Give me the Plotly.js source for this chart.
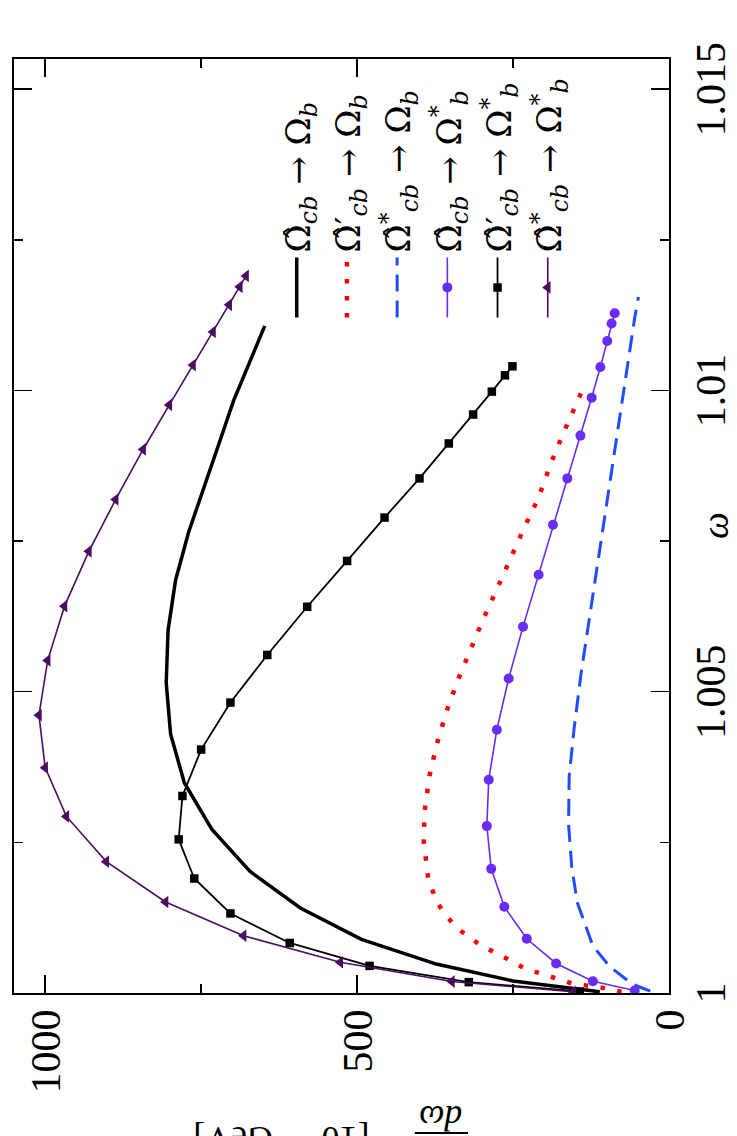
<!DOCTYPE html>
<html>
<head>
<meta charset="utf-8">
<script src="https://cdn.plot.ly/plotly-3.0.1.min.js"></script>
<style>
  html, body { margin: 0; padding: 0; background: #fff; overflow: hidden; }
  /* the figure is drawn landscape and turned a quarter turn to the left */
  #plot {
    position: absolute; left: 0; top: 0;
    width: 1136px; height: 737px;
    transform-origin: 0 0;
    transform: translateY(1136px) rotate(-90deg);
  }
</style>
</head>
<body>
<div id="plot"></div>
<script>
// Omega_cb -> Omega_b
var wSolid = [1.00002, 1.0002, 1.00048, 1.00089, 1.00141, 1.00202, 1.00272, 1.00349, 1.0043, 1.00515,
              1.00602, 1.00685, 1.00765, 1.00848, 1.00919, 1.00983, 1.01036, 1.01075, 1.01098, 1.01107];
var gSolid = [111, 250, 373, 493, 591, 672, 733, 777, 799, 806,
              803, 791, 770, 742, 719, 698, 677, 661, 652, 648];

// Omega'_cb -> Omega_b
var wDot = [1.00002, 1.00008, 1.00016, 1.00024, 1.00033, 1.00041, 1.00055, 1.0008, 1.0011, 1.0015,
            1.0019, 1.0025, 1.003, 1.0036, 1.0041, 1.00466, 1.00518, 1.0057, 1.0062, 1.0067,
            1.0072, 1.0077, 1.0082, 1.0088, 1.0093, 1.0098, 1.01005];
var gDot = [76, 103, 156, 181, 206, 232, 256, 303, 343, 372,
            386, 393, 392, 384, 373, 357, 339, 319, 298, 276,
            255, 233, 210, 189, 169, 147, 137];

// Omega*_cb -> Omega_b
var wDash = [1.00003, 1.00016, 1.00022, 1.00044, 1.00078, 1.00121, 1.0015, 1.0021, 1.0028, 1.0036,
             1.0044, 1.0053, 1.0062, 1.0071, 1.0079, 1.0087, 1.0095, 1.0101, 1.0107, 1.0112, 1.01155];
var gDash = [30, 62, 68, 95, 122, 137, 147, 156, 161, 160,
             152, 141, 128, 115, 103, 91, 80, 71, 62, 55, 49];

// Omega_cb -> Omega*_b
var wCirc = [1.00004, 1.000195, 1.00049, 1.0009, 1.00143, 1.00206, 1.00277, 1.00354, 1.00437, 1.00522,
             1.00608, 1.00694, 1.00777, 1.00854, 1.00925, 1.00988, 1.01039, 1.01082, 1.01111, 1.01128];
var gCirc = [55, 122, 181, 228, 264, 285, 292, 289, 276, 257,
             234, 209, 186, 163, 142, 124, 110, 99, 92, 87];

// Omega'_cb -> Omega*_b
var wSq = [1.000025, 1.00018, 1.00045, 1.00083, 1.00132, 1.0019, 1.00255, 1.00327, 1.00404, 1.00482,
           1.00561, 1.00641, 1.00717, 1.00789, 1.00854, 1.00912, 1.0096, 1.00998, 1.01025, 1.0104];
var gSq = [143, 321, 480, 608, 703, 761, 786, 780, 750, 703,
           644, 580, 516, 456, 400, 353, 314, 284, 263, 251];

// Omega*_cb -> Omega*_b
var wTri = [1.00002, 1.00019, 1.00051, 1.00095, 1.00151, 1.00218, 1.00293, 1.00374, 1.00461, 1.00552,
            1.00642, 1.00733, 1.00819, 1.00902, 1.00976, 1.01042, 1.01097, 1.01142, 1.01172, 1.0119];
var gTri = [154, 348, 527, 682, 807, 902, 966, 1000, 1010, 996,
            969, 930, 887, 843, 801, 763, 731, 705, 688, 678];

var omegaTicks = [1, 1.005, 1.01, 1.015];
var omegaLabels = ['1', '1.005', '1.01', '1.015'];
var rateTicks = [0, 500, 1000];
var rateLabels = ['0', '500', '1000'];

var OH = '\u03A9\u0302';   // widehat Omega
var names = [
  OH + '<sub><i>cb</i></sub> \u2192 \u03A9<sub><i>b</i></sub>',
  OH + '\u2032<sub><i>cb</i></sub> \u2192 \u03A9<sub><i>b</i></sub>',
  OH + '<sup>*</sup><sub><i>cb</i></sub> \u2192 \u03A9<sub><i>b</i></sub>',
  OH + '<sub><i>cb</i></sub> \u2192 \u03A9<sup>*</sup><sub><i>b</i></sub>',
  OH + '\u2032<sub><i>cb</i></sub> \u2192 \u03A9<sup>*</sup><sub><i>b</i></sub>',
  OH + '<sup>*</sup><sub><i>cb</i></sub> \u2192 \u03A9<sup>*</sup><sub><i>b</i></sub>'
];

var data = [
  {x: wSolid, y: gSolid, name: names[0], legendgroup: 'a', mode: 'lines',
   line: {color: '#000000', width: 3.5}},
  {x: wDot, y: gDot, name: names[1], legendgroup: 'b', mode: 'lines',
   line: {color: '#ff0000', width: 4.5, dash: '4.5px,12.5px'}},
  {x: wDash, y: gDash, name: names[2], legendgroup: 'c', mode: 'lines',
   line: {color: '#1f4cff', width: 3, dash: '17px,9px'}},
  {x: wCirc, y: gCirc, name: names[3], legendgroup: 'd', mode: 'lines+markers',
   line: {color: '#6a2cf5', width: 1.6},
   marker: {symbol: 'circle', size: 10, color: '#6a2cf5'}},
  {x: wSq, y: gSq, name: names[4], legendgroup: 'e', mode: 'lines+markers',
   line: {color: '#000000', width: 1.8},
   marker: {symbol: 'square', size: 8.5, color: '#000000'}},
  {x: wTri, y: gTri, name: names[5], legendgroup: 'f', mode: 'lines+markers',
   line: {color: '#4b0c64', width: 1.6},
   marker: {symbol: 'triangle-up', size: 11, color: '#4b0c64'}}
];

var serif = 'Liberation Serif';

var layout = {
  width: 1136,
  height: 737,
  margin: {l: 143, r: 59, t: 14, b: 68},
  paper_bgcolor: '#ffffff',
  plot_bgcolor: '#ffffff',
  font: {family: serif, color: '#000000', size: 36},
  showlegend: true,
  legend: {
    x: 0.718, y: 0.612, xanchor: 'left', yanchor: 'top',
    bgcolor: 'rgba(0,0,0,0)', borderwidth: 0,
    itemwidth: 60, tracegroupgap: 3,
    font: {family: 'DejaVu Serif', size: 34, color: '#000000'}
  },
  xaxis: {
    range: [1, 1.0155],
    tickvals: omegaTicks, ticktext: omegaLabels,
    ticks: 'inside', ticklen: 18, tickwidth: 1.5, tickcolor: '#000000',
    minor: {dtick: 0.0025, ticks: 'inside', ticklen: 9, tickwidth: 1.5, tickcolor: '#000000'},
    showline: true, linecolor: '#000000', linewidth: 2, mirror: 'ticks',
    showgrid: false, zeroline: false,
    tickfont: {family: serif, size: 42, color: '#000000'},
    ticklabelstandoff: 4
  },
  yaxis: {
    range: [0, 1050],
    tickvals: rateTicks, ticktext: rateLabels,
    ticks: 'inside', ticklen: 18, tickwidth: 1.5, tickcolor: '#000000',
    minor: {dtick: 250, ticks: 'inside', ticklen: 9, tickwidth: 1.5, tickcolor: '#000000'},
    showline: true, linecolor: '#000000', linewidth: 2, mirror: 'ticks',
    showgrid: false, zeroline: false,
    tickfont: {family: serif, size: 42, color: '#000000'},
    ticklabelstandoff: 6
  },
  annotations: [
    // x axis title
    {xref: 'paper', yref: 'paper', x: 0.5, y: -0.07, xanchor: 'center', yanchor: 'middle',
     text: '<i>\u03C9</i>', showarrow: false, font: {family: serif, size: 38}},
    // y axis title, built as a fraction
    {xref: 'paper', yref: 'paper', x: -0.110, y: 0.348, xanchor: 'right', yanchor: 'middle',
     text: '<i>d\u03C9</i>', textangle: -90, showarrow: false, font: {family: serif, size: 36}},
    {xref: 'paper', yref: 'paper', x: -0.157, y: 0.348, xanchor: 'right', yanchor: 'middle',
     text: '<i>d</i>\u0393', textangle: -90, showarrow: false, font: {family: serif, size: 36}},
    {xref: 'paper', yref: 'paper', x: -0.133, y: 0.592, xanchor: 'right', yanchor: 'middle',
     text: '[10<sup>\u221216</sup> GeV]', textangle: -90, showarrow: false, font: {family: serif, size: 36}}
  ],
  shapes: [
    {type: 'line', xref: 'paper', yref: 'paper', x0: -0.1499, x1: -0.1499, y0: 0.307, y1: 0.388,
     line: {color: '#000000', width: 2}}
  ]
};

Plotly.newPlot('plot', data, layout, {staticPlot: true, displayModeBar: false});
</script>
</body>
</html>
